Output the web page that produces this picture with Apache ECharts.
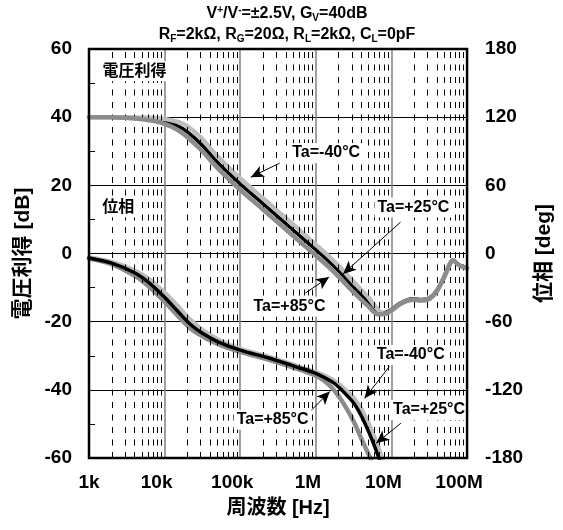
<!DOCTYPE html>
<html>
<head>
<meta charset="utf-8">
<script src="https://cdn.jsdelivr.net/npm/echarts@6/dist/echarts.min.js"></script>
<style>
  html, body { margin: 0; padding: 0; background: #fff; }
  #chart { width: 563px; height: 530px; }
</style>
</head>
<body>
<div id="chart"></div>
<script>
// ---- Frequency response: voltage gain [dB] and phase [deg] vs. frequency [Hz]

// Gain curves (left axis)
const GAIN_FREQ = [1e3, 2e3, 3e3, 5e3, 7e3, 1e4, 1.5e4, 2e4, 3e4, 5e4, 7e4, 1e5, 2e5, 5e5,
  1e6, 1.5e6, 2e6, 3e6, 5e6, 6.6e6, 8e6, 1e7, 1.25e7, 1.6e7, 2e7, 2.5e7, 3.2e7, 4e7, 5e7,
  6e7, 6.6e7, 7.4e7, 8.3e7, 1e8];
const GAIN_M40 = [40, 40, 40, 39.9, 39.8, 39.5, 38.6, 37.3, 34.0, 28.5, 25.3, 22.0, 16.2, 8.5,
  2.6, -0.9, -3.6, -7.8, -13.0, -16.4, -17.7, -16.9, -15.2, -13.9, -13.6, -13.7, -13.2, -11.0, -6.8,
  -2.8, -2.0, -3.0, -3.7, -4.3];
const GAIN_P25 = [40, 40, 39.9, 39.7, 39.4, 38.8, 37.4, 35.7, 32.2, 26.8, 23.6, 20.4, 14.6, 6.9,
  1.1, -2.4, -5.1, -9.3, -14.3, -17.0, -17.4, -16.4, -14.8, -13.6, -13.3, -13.5, -13.0, -10.7, -6.5,
  -2.6, -1.9, -3.0, -3.6, -4.3];
const GAIN_P85 = [40, 40, 39.8, 39.4, 38.9, 38.0, 36.2, 34.1, 30.5, 25.1, 21.9, 18.7, 12.9, 5.2,
  -0.6, -4.1, -6.8, -10.9, -15.6, -17.8, -17.8, -16.6, -15.0, -13.9, -13.6, -13.8, -13.3, -11.0, -6.9,
  -2.9, -2.0, -3.0, -3.7, -4.3];

// Phase curves (right axis)
const PHASE_FREQ_M40 = [1e3, 2e3, 4e3, 6.3e3, 1e4, 1.5e4, 2.2e4, 3.2e4, 5e4, 1e5, 2.4e5, 5.4e5,
  1e6, 1.6e6, 2e6, 2.5e6, 3.2e6, 4e6, 5e6, 6.3e6, 7.6e6];
const PHASE_M40 = [-3.5, -7.5, -15, -23, -34.5, -46.5, -58.5, -67.5, -75.5, -84, -91, -98.5,
  -104.5, -110.5, -115, -120.5, -127.5, -137, -150, -166, -181];
const PHASE_FREQ_P25 = [1e3, 2e3, 4e3, 6.3e3, 1e4, 1.5e4, 2.2e4, 3.2e4, 5e4, 1e5, 2.4e5, 5.4e5,
  1e6, 1.6e6, 2e6, 2.5e6, 3.2e6, 4e6, 5e6, 6e6, 6.9e6];
const PHASE_P25 = [-4, -8.5, -17, -26, -38.5, -51, -62.5, -70.5, -77.5, -85, -92, -99.5,
  -105.5, -112.5, -117.5, -124, -132, -143, -157, -170, -181];
const PHASE_FREQ_P85 = [1e3, 2e3, 4e3, 6.3e3, 1e4, 1.5e4, 2.2e4, 3.2e4, 5e4, 1e5, 2.4e5, 5.4e5,
  1e6, 1.26e6, 1.6e6, 2e6, 2.5e6, 3.2e6, 4e6, 5e6, 5.4e6];
const PHASE_P85 = [-4.5, -9.5, -19.5, -29.5, -42.5, -55, -66, -73, -79.5, -86.5, -93.5, -101,
  -107.5, -111.5, -117.5, -125.5, -135.5, -148.5, -163, -177, -182];

// Axes
const DECADE_LABELS = ['1k', '10k', '100k', '1M', '10M', '100M'];
const GAIN_RANGE = [-60, 60];
const PHASE_RANGE = [-180, 180];

const FONT = "'Liberation Sans', Arial, 'Noto Sans CJK JP', sans-serif";

const zip = (xs, ys) => xs.map((x, i) => [x, ys[i]]);

// dashed lines at 2..9 within every decade
const minorFreqs = [];
for (let e = 3; e < 8; e++) {
  for (let k = 2; k <= 9; k++) minorFreqs.push(k * Math.pow(10, e));
}

// annotation text placed in gain-axis data units
const NOTES = [
  { name: '電圧利得', coord: [4.0e3, 53.5] },
  { name: '位相', coord: [2.44e3, 13.6] },
  { name: 'Ta=-40°C', coord: [1.37e6, 29.5] },
  { name: 'Ta=+25°C', coord: [1.95e7, 13.5] },
  { name: 'Ta=+85°C', coord: [4.48e5, -15.6] },
  { name: 'Ta=-40°C', coord: [1.8e7, -29.8] },
  { name: 'Ta=+25°C', coord: [3.14e7, -45.9] },
  { name: 'Ta=+85°C', coord: [2.68e5, -48.8] }
];
// leader arrows [from, to] in gain-axis data units
const ARROWS = [
  [[3.31e5, 26.5], [1.38e5, 22.4]],
  [[1.32e7, 9.2], [2.29e6, -6.0]],
  [[7.26e5, -11.6], [1.50e6, -6.9]],
  [[9.37e6, -33.2], [4.41e6, -42.5]],
  [[1.33e7, -49.8], [6.27e6, -55.7]],
  [[7.55e5, -47.4], [1.53e6, -40.5]]
];

const curve = (name, data, color, width, yIdx, z) => ({
  name, type: 'line', data, yAxisIndex: yIdx, showSymbol: false, symbol: 'none',
  smooth: 0.3, z, clip: true,
  lineStyle: { color, width, cap: 'round', join: 'round' }
});

const chart = echarts.init(document.getElementById('chart'), null, { renderer: 'canvas' });

const titleRich = {
  n: { fontSize: 16, fontWeight: 'bold', fontFamily: FONT, lineHeight: 18, color: '#000' },
  sup: { fontSize: 10, fontWeight: 'bold', fontFamily: FONT, lineHeight: 10, verticalAlign: 'top', color: '#000' },
  sub: { fontSize: 10, fontWeight: 'bold', fontFamily: FONT, lineHeight: 10, verticalAlign: 'bottom', color: '#000' }
};

chart.setOption({
  animation: false,
  backgroundColor: '#fff',
  title: [
    {
      text: '{n|V}{sup|+}{n|/V}{sup|-}{n|=±2.5V, G}{sub|V}{n|=40dB}',
      left: 287, top: 5, textAlign: 'center', padding: 0,
      textStyle: { rich: titleRich }
    },
    {
      text: '{n|R}{sub|F}{n|=2kΩ, R}{sub|G}{n|=20Ω, R}{sub|L}{n|=2kΩ, C}{sub|L}{n|=0pF}',
      left: 287, top: 26, textAlign: 'center', padding: 0,
      textStyle: { rich: titleRich }
    }
  ],
  grid: { left: 89, right: 93, top: 49, bottom: 72, show: true, borderColor: '#000', borderWidth: 2.5, backgroundColor: 'transparent', z: 10 },
  xAxis: {
    type: 'log', logBase: 10, min: 1e3, max: 1e8,
    name: '周波数 [Hz]', nameLocation: 'middle', nameGap: 40,
    nameTextStyle: { fontFamily: FONT, fontWeight: 'bold', fontSize: 20, color: '#000' },
    axisLine: { show: false },
    axisTick: { show: false },
    minorTick: { show: false },
    splitLine: { show: true, lineStyle: { color: '#808080', width: 1.5 } },
    axisLabel: {
      margin: 15, color: '#000',
      formatter: (v) => {
        const i = Math.round(Math.log10(v)) - 3;
        const t = DECADE_LABELS[i];
        return i === 0 ? '{a|' + t + '}' : '{b|' + t + '}';
      },
      rich: {
        a: { fontFamily: FONT, fontWeight: 'bold', fontSize: 19, color: '#000' },
        b: { fontFamily: FONT, fontWeight: 'bold', fontSize: 19, color: '#000', padding: [0, 16, 0, 0] }
      }
    }
  },
  yAxis: [
    {
      type: 'value', min: GAIN_RANGE[0], max: GAIN_RANGE[1], interval: 20,
      name: '電圧利得 [dB]', nameLocation: 'middle', nameGap: 55, nameRotate: 90,
      nameTextStyle: { fontFamily: FONT, fontWeight: 'bold', fontSize: 21, color: '#000' },
      axisLine: { show: false },
      axisTick: { show: true, inside: true, length: 6, lineStyle: { color: '#000', width: 1 } },
      minorTick: { show: true, splitNumber: 2, length: 6, lineStyle: { color: '#000', width: 1 } },
      splitLine: { show: true, lineStyle: { color: '#000', width: 1 } },
      axisLabel: { margin: 17, fontFamily: FONT, fontWeight: 'bold', fontSize: 19, color: '#000' }
    },
    {
      type: 'value', min: PHASE_RANGE[0], max: PHASE_RANGE[1], interval: 60,
      name: '位相 [deg]', nameLocation: 'middle', nameGap: 58, nameRotate: 90,
      nameTextStyle: { fontFamily: FONT, fontWeight: 'bold', fontSize: 21, color: '#000' },
      axisLine: { show: false },
      axisTick: { show: false },
      splitLine: { show: false },
      axisLabel: { margin: 18, fontFamily: FONT, fontWeight: 'bold', fontSize: 19, color: '#000' }
    }
  ],
  series: [
    {
      name: 'minor-grid', type: 'line', data: [], yAxisIndex: 0, z: 1,
      markLine: {
        silent: true, symbol: ['none', 'none'], animation: false,
        label: { show: false },
        lineStyle: { color: '#000', width: 1, type: [6, 6.5] },
        emphasis: { disabled: true },
        data: minorFreqs.map(f => ({ xAxis: f }))
      }
    },
    // gain: +25°C underneath, the two grey traces drawn over it
    curve('電圧利得 Ta=+25°C', zip(GAIN_FREQ, GAIN_P25), '#000000', 3.5, 0, 3),
    curve('電圧利得 Ta=-40°C', zip(GAIN_FREQ, GAIN_M40), '#bdbdbd', 4.5, 0, 4),
    curve('電圧利得 Ta=+85°C', zip(GAIN_FREQ, GAIN_P85), '#8c8c8c', 4.5, 0, 5),
    // phase: +25°C on top of the grey traces
    curve('位相 Ta=-40°C', zip(PHASE_FREQ_M40, PHASE_M40), '#bdbdbd', 4.5, 1, 3),
    curve('位相 Ta=+85°C', zip(PHASE_FREQ_P85, PHASE_P85), '#8c8c8c', 4.5, 1, 4),
    curve('位相 Ta=+25°C', zip(PHASE_FREQ_P25, PHASE_P25), '#000000', 3.5, 1, 5),
    {
      name: 'notes', type: 'line', data: [], yAxisIndex: 0, z: 20,
      markLine: {
        silent: true, symbol: ['none', 'arrow'], symbolSize: [9, 13], animation: false,
        label: { show: false },
        lineStyle: { color: '#000', width: 1, type: 'solid' },
        itemStyle: { color: '#000' },
        emphasis: { disabled: true },
        data: ARROWS.map(([a, b]) => [{ coord: a }, { coord: b }])
      },
      markPoint: {
        silent: true, symbol: 'circle', symbolSize: 1, animation: false,
        itemStyle: { color: 'rgba(0,0,0,0)' },
        label: {
          show: true, position: 'inside', formatter: '{b}', color: '#000',
          fontFamily: FONT, fontWeight: 'bold', fontSize: 16,
          backgroundColor: '#fff', padding: [2, 3]
        },
        data: NOTES.map(n => ({ name: n.name, coord: n.coord }))
      }
    }
  ]
});
</script>
</body>
</html>
